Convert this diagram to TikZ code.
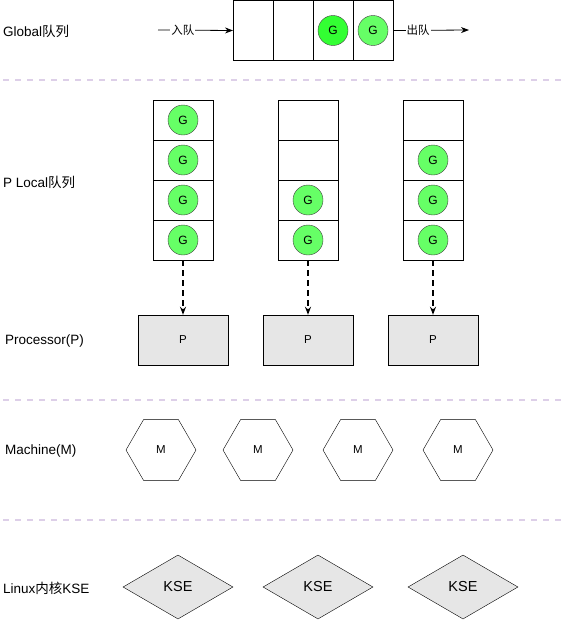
\documentclass[tikz,border=0pt]{standalone}
\usepackage{fontspec}
\setmainfont{Liberation Sans}
\newfontfamily\cjk{Noto Sans CJK SC}
\usetikzlibrary{shapes.geometric,arrows.meta}
\definecolor{gdark}{HTML}{33FF33}
\definecolor{glight}{HTML}{66FF66}
\definecolor{pfill}{HTML}{E6E6E6}
\definecolor{sepcol}{HTML}{DDCFE8}
\begin{document}
\begin{tikzpicture}[x=1pt,y=-1pt,
  gcell/.style={draw, minimum width=40pt, minimum height=60pt, inner sep=0pt, outer sep=0pt},
  lcell/.style={draw, minimum width=60pt, minimum height=40pt, inner sep=0pt, outer sep=0pt},
  gor/.style={circle, draw=black!75, fill=glight, minimum size=30pt, inner sep=0pt, font=\fontsize{12}{14}\selectfont},
  pbox/.style={draw, fill=pfill, minimum width=90pt, minimum height=50pt, inner sep=0pt, font=\fontsize{11.5}{13}\selectfont},
  hexa/.style={draw, regular polygon, regular polygon sides=6, minimum size=70pt, inner sep=0pt, font=\fontsize{11.5}{13}\selectfont},
  kse/.style={draw, diamond, fill=pfill, minimum width=110pt, minimum height=64pt, inner sep=0pt, font=\fontsize{14.5}{16}\selectfont},
  lbl/.style={anchor=west, inner sep=0pt, font=\fontsize{13.5}{16}\selectfont},
  seprule/.style={draw=sepcol, line width=1.5pt, dash pattern=on 6pt off 6pt},
  dasharrow/.style={-{Stealth[length=8pt,width=6pt]}, line width=1.5pt, dash pattern=on 6pt off 4pt},
  qarrow/.style={-{Stealth[length=8pt,width=6pt]}, line width=0.8pt},
  qlbl/.style={fill=white, inner sep=1pt, font=\cjk\fontsize{11.5}{13}\selectfont}
]
\useasboundingbox (0,0) rectangle (566,621);

% separators
\draw[seprule] (3,80) -- (566,80);
\draw[seprule] (3,400) -- (566,400);
\draw[seprule] (3,520) -- (566,520);

% left labels
\node[lbl] (lglobal) at (3,31) {Global{\cjk 队列}};
\node[lbl] (llocal) at (3,182) {P Local{\cjk 队列}};
\node[lbl] (lproc) at (5,341) {Processor(P)};
\node[lbl] (lmach) at (5,451) {Machine(M)};
\node[lbl] (llinux) at (3,588) {Linux{\cjk 内核}KSE};

% global queue
\node[gcell] (g1) at (253,30.5) {};
\node[gcell] (g2) at (293,30.5) {};
\node[gcell] (g3) at (333,30.5) {};
\node[gcell] (g4) at (373,30.5) {};
\node[gor, fill=gdark] (gg3) at (g3) {G};
\node[gor] (gg4) at (g4) {G};
\coordinate (inL) at (158,30);
\coordinate (outR) at (469,30);
\draw[qarrow] (inL) -- node[qlbl, pos=0.33] (tin) {入队} (g1.west);
\draw[qarrow] (g4.east) -- node[qlbl, pos=0.33] (tout) {出队} (outR);

% local queues
\foreach \q/\x in {1/183,2/308,3/433}{
  \foreach \r/\y in {1/120,2/160,3/200,4/240}{
    \node[lcell] (q\q c\r) at (\x,\y) {};
  }
}
\foreach \r in {1,2,3,4}{ \node[gor] (q1g\r) at (q1c\r) {G}; }
\foreach \r in {3,4}{ \node[gor] (q2g\r) at (q2c\r) {G}; }
\foreach \r in {2,3,4}{ \node[gor] (q3g\r) at (q3c\r) {G}; }

% processors
\node[pbox] (p1) at (183,340) {P};
\node[pbox] (p2) at (308,340) {P};
\node[pbox] (p3) at (433,340) {P};
\draw[dasharrow] (q1c4.south) -- (p1.north);
\draw[dasharrow] (q2c4.south) -- (p2.north);
\draw[dasharrow] (q3c4.south) -- (p3.north);

% machines
\node[hexa] (m1) at (161,450) {M};
\node[hexa] (m2) at (258,450) {M};
\node[hexa] (m3) at (358,450) {M};
\node[hexa] (m4) at (458,450) {M};

% KSE
\node[kse] (k1) at (178,587) {KSE};
\node[kse] (k2) at (318,587) {KSE};
\node[kse] (k3) at (463,587) {KSE};
\end{tikzpicture}
\end{document}
